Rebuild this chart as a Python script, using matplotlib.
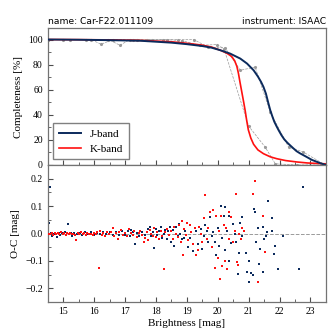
import matplotlib
matplotlib.use("Agg")
import matplotlib.pyplot as plt
from matplotlib.ticker import MultipleLocator

plt.rcParams['font.family'] = ['Liberation Serif', 'DejaVu Serif']
plt.rcParams['mathtext.fontset'] = 'dejavuserif'
plt.rcParams['axes.unicode_minus'] = True

NAVY = '#0b2a5c'
RED = '#ff1010'
GRAY = '#9a9a9a'

# fitted completeness curves
j_fit_mag = [14.5, 15.5, 16.5, 17.5, 18.5, 19.0, 19.5, 19.8, 20.08, 20.4, 20.73, 20.95,
             21.16, 21.3, 21.4, 21.48, 21.56, 21.63, 21.7, 21.77, 21.83, 21.9, 21.97, 22.06,
             22.15, 22.25, 22.34, 22.45, 22.55, 22.66, 22.78, 22.92, 23.05, 23.2, 23.32, 23.5]
j_fit = [100, 99.8, 99.5, 99.0, 97.5, 96.3, 94.8, 93.5, 91.5, 88.8, 84.8, 80.8,
         75.5, 70.5, 66.3, 62.2, 56.8, 50.0, 43.6, 38.5, 34.5, 31.0, 27.7, 23.8,
         20.5, 17.8, 15.7, 13.2, 11.0, 9.3, 7.7, 5.8, 4.0, 2.6, 1.4, 0.0]

k_fit_mag = [14.5, 15.5, 16.5, 17.5, 18.5, 19.0, 19.5, 19.8, 20.08, 20.3, 20.45, 20.55,
             20.62, 20.67, 20.72, 20.78, 20.84, 20.89, 20.94, 20.99, 21.07, 21.16, 21.3,
             21.48, 21.7, 21.91, 22.2, 22.56, 22.9, 23.31, 23.5]
k_fit = [100, 99.9, 99.7, 99.3, 98.2, 97.0, 95.5, 94.0, 91.5, 89.0, 86.5, 83.0,
         78.5, 73.0, 66.0, 58.0, 50.0, 43.0, 35.0, 28.0, 21.5, 16.5, 12.0,
         9.0, 6.5, 5.0, 3.5, 2.4, 1.6, 1.1, 0.9]

# measured completeness (gray points)
j_data_mag = [14.5, 15.22, 15.9, 16.23, 16.6, 17.27, 17.71, 18.24, 18.73, 19.22, 19.7,
              20.24, 20.73, 21.21, 21.7, 22.29, 22.76, 23.48]
j_data = [100, 100, 100, 96.2, 100, 100, 100, 100, 100, 100, 93.8,
          93.3, 75.5, 78.0, 42.0, 14.4, 10.4, 0.0]
k_data_mag = [14.5, 15.0, 15.74, 16.46, 16.84, 17.15, 17.38, 17.87, 18.35, 18.85, 19.43,
              19.97, 20.2, 21.0, 21.53, 21.86, 22.56, 23.48]
k_data = [100, 100, 100, 100, 95.4, 100, 100, 100, 100, 99.0, 95.4,
          96.0, 92.7, 31.0, 14.4, 1.0, 0.0, 0.0]

# O-C residuals
j_oc_mag = [14.5, 14.52, 14.56, 14.55, 14.53, 14.6, 14.65, 14.7, 14.75, 14.8, 14.85, 14.9,
            14.95, 15.0, 15.05, 15.1, 15.17, 15.2, 15.25, 15.3, 15.35, 15.45, 15.55, 15.6,
            15.7, 15.8, 15.9, 16.0, 16.1, 16.2, 16.3, 16.4, 16.5, 16.6, 16.7, 16.8,
            16.9, 17.0, 17.1, 17.15, 17.2, 17.25, 17.33, 17.38, 17.45, 17.55, 17.65, 17.75,
            17.8, 17.85, 17.9, 17.95, 18.0, 18.05, 18.1, 18.15, 18.2, 18.25, 18.3, 18.35,
            18.4, 18.45, 18.5, 18.55, 18.6, 18.65, 18.7, 18.75, 18.78, 18.85, 18.9, 18.95,
            19.05, 19.1, 19.2, 19.3, 19.35, 19.45, 19.5, 19.55, 19.6, 19.65, 19.7, 19.75,
            19.8, 19.85, 19.9, 19.95, 20.0, 20.05, 20.1, 20.15, 20.2, 20.22, 20.25, 20.3,
            20.35, 20.38, 20.42, 20.5, 20.55, 20.6, 20.65, 20.68, 20.72, 20.78, 20.8, 20.85,
            20.9, 20.95, 21.0, 21.02, 21.08, 21.15, 21.18, 21.2, 21.25, 21.3, 21.35, 21.38,
            21.46, 21.49, 21.48, 21.55, 21.59, 21.63, 21.74, 21.76, 21.82, 21.85, 21.96, 22.11,
            22.63, 22.76]
j_oc = [0.05, 0.045, 0.168, 0.04, -0.003, 0.002, -0.008, 0.0, -0.003, -0.012, 0.003, -0.004,
        0.001, -0.002, 0.004, -0.006, 0.034, -0.003, 0.002, -0.01, 0.003, -0.002, 0.003, -0.004,
        0.005, -0.003, 0.004, -0.005, 0.002, -0.003, 0.006, -0.002, 0.004, -0.006, 0.005, -0.004,
        0.008, -0.006, 0.01, -0.008, 0.012, 0.004, -0.037, 0.002, -0.01, 0.006, -0.005, 0.015,
        0.022, -0.01, 0.005, -0.052, 0.015, -0.006, 0.01, 0.025, -0.015, 0.0, 0.012, -0.02,
        0.008, 0.022, -0.03, 0.012, -0.045, 0.025, -0.01, 0.035, 0.0, -0.02, -0.015, 0.01,
        -0.05, -0.015, -0.065, 0.008, -0.04, 0.018, -0.058, -0.01, 0.032, 0.01, -0.03, 0.06,
        -0.008, 0.005, -0.03, -0.08, 0.02, -0.045, 0.1, -0.015, 0.065, 0.095, -0.06, 0.01,
        -0.1, 0.065, -0.035, 0.035, 0.0, -0.03, -0.148, -0.07, 0.04, 0.062, -0.01, 0.01,
        -0.07, -0.14, -0.1, -0.175, -0.145, -0.152, 0.09, 0.078, -0.03, 0.02, -0.11, -0.055,
        0.025, -0.02, -0.14, -0.01, 0.005, 0.117, 0.011, 0.056, -0.076, -0.047, -0.129, -0.01,
        -0.131, 0.171]

k_oc_mag = [14.52, 14.58, 14.63, 14.68, 14.72, 14.78, 14.83, 14.88, 14.93, 14.98, 15.03, 15.08,
            15.12, 15.18, 15.23, 15.28, 15.33, 15.38, 15.43, 15.47, 15.52, 15.58, 15.63, 15.68,
            15.73, 15.78, 15.84, 15.9, 15.95, 16.0, 16.05, 16.1, 16.15, 16.2, 16.25, 16.3,
            16.36, 16.42, 16.48, 16.55, 16.6, 16.63, 16.7, 16.76, 16.82, 16.88, 16.95, 17.0,
            17.05, 17.12, 17.18, 17.25, 17.3, 17.38, 17.45, 17.5, 17.56, 17.62, 17.66, 17.7,
            17.75, 17.8, 17.85, 17.9, 17.95, 18.0, 18.05, 18.1, 18.15, 18.2, 18.27, 18.3,
            18.35, 18.42, 18.48, 18.55, 18.6, 18.65, 18.7, 18.75, 18.8, 18.85, 18.88, 18.92,
            18.97, 19.0, 19.05, 19.1, 19.15, 19.2, 19.25, 19.3, 19.35, 19.4, 19.45, 19.5,
            19.55, 19.58, 19.65, 19.7, 19.75, 19.8, 19.85, 19.9, 19.95, 20.0, 20.05, 20.08,
            20.1, 20.15, 20.2, 20.25, 20.28, 20.3, 20.35, 20.38, 20.42, 20.5, 20.55, 20.6,
            20.63, 20.66, 20.7, 20.75, 20.8, 20.85, 21.14, 21.22, 21.3, 21.46, 21.52]
k_oc = [0.0, -0.002, 0.003, -0.004, 0.001, -0.003, 0.002, -0.001, 0.004, -0.002, 0.001, -0.005,
        0.002, -0.001, 0.003, -0.003, 0.0, -0.006, -0.025, 0.002, -0.002, 0.004, -0.003, 0.001,
        -0.004, 0.003, -0.002, 0.0, -0.006, 0.003, -0.001, 0.005, -0.126, 0.01, -0.004, 0.002,
        -0.008, 0.004, -0.003, 0.006, 0.02, -0.01, 0.002, -0.02, 0.005, 0.012, -0.006, 0.003,
        -0.01, 0.015, 0.002, -0.006, 0.008, -0.012, 0.003, 0.01, -0.004, -0.03, -0.015, 0.005,
        -0.025, 0.012, 0.0, -0.008, 0.02, -0.014, 0.006, -0.02, 0.01, -0.01, -0.13, 0.004,
        0.018, -0.006, 0.01, -0.02, 0.025, 0.0, -0.012, 0.03, -0.03, 0.047, -0.08, 0.015,
        -0.005, 0.038, -0.025, 0.03, 0.005, -0.04, 0.02, -0.08, -0.06, 0.025, 0.0, -0.03,
        0.055, 0.141, -0.02, 0.02, 0.08, -0.05, 0.085, -0.125, 0.065, -0.09, 0.01, -0.165,
        0.065, -0.12, 0.03, -0.1, 0.02, -0.13, 0.08, -0.02, 0.06, -0.03, 0.01, 0.145,
        -0.105, -0.115, 0.0, -0.02, 0.02, 0.01, 0.143, 0.19, -0.178, 0.064, -0.066]

fig = plt.figure(figsize=(3.36, 3.36), dpi=100)
ax1 = fig.add_axes([0.142, 0.509, 0.828, 0.407])
ax2 = fig.add_axes([0.142, 0.101, 0.828, 0.408], sharex=ax1)

# Верхняя панель
ax1.plot(j_data_mag, j_data, ls='--', lw=0.5, color=GRAY, marker='.', ms=2.5, zorder=1)
ax1.plot(k_data_mag, k_data, ls='--', lw=0.5, color=GRAY, marker='.', ms=2.5, zorder=1)
ax1.plot(j_fit_mag, j_fit, color=NAVY, lw=1.4, label='J-band', zorder=3)
ax1.plot(k_fit_mag, k_fit, color=RED, lw=1.2, label='K-band', zorder=2)
ax1.set_ylim(0, 109)
ax1.set_ylabel('Completeness [%]', fontsize=8)
ax1.yaxis.set_major_locator(MultipleLocator(20))
ax1.yaxis.set_minor_locator(MultipleLocator(10))
ax1.tick_params(labelbottom=False)
ax1.legend(loc='lower left', fontsize=8, fancybox=False, edgecolor='0.5',
           framealpha=1, handlelength=2.0, borderpad=0.5)
ax1.set_title('name: Car-F22.011109', loc='left', fontsize=6.6,
              family='DejaVu Sans', pad=3)
ax1.set_title('instrument: ISAAC', loc='right', fontsize=6.6,
              family='DejaVu Sans', pad=3)

# Нижняя панель
ax2.axhline(0, color=GRAY, ls='--', lw=0.7, zorder=1)
ax2.scatter(j_oc_mag, j_oc, s=3.5, color=NAVY, marker='s', lw=0, zorder=2)
ax2.scatter(k_oc_mag, k_oc, s=3.5, color=RED, marker='s', lw=0, zorder=3)
ax2.set_ylim(-0.25, 0.25)
ax2.set_xlim(14.5, 23.5)
ax2.set_ylabel('O-C [mag]', fontsize=8)
ax2.set_xlabel('Brightness [mag]', fontsize=8, labelpad=2)
ax2.yaxis.set_major_locator(MultipleLocator(0.1))
ax2.yaxis.set_minor_locator(MultipleLocator(0.05))
ax2.xaxis.set_major_locator(MultipleLocator(1))
ax2.xaxis.set_minor_locator(MultipleLocator(0.5))
ax2.yaxis.set_major_formatter(plt.FuncFormatter(lambda v, p: f"{v:.1f}".replace('-', '\u2212')))

for ax in (ax1, ax2):
    ax.tick_params(which='both', direction='in', labelsize=7, color='0.3')
    ax.tick_params(which='major', length=3.5)
    ax.tick_params(which='minor', length=2)
    for s in ax.spines.values():
        s.set_color('0.45')
        s.set_linewidth(0.9)

fig.savefig('out.png', dpi=100)
